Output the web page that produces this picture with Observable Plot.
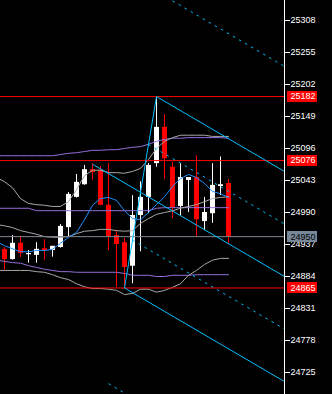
<!DOCTYPE html>
<html>
<head>
<meta charset="utf-8">
<script src="https://cdn.jsdelivr.net/npm/d3@7"></script>
<script src="https://cdn.jsdelivr.net/npm/@observablehq/plot@0.6"></script>
<style>
html, body { margin: 0; padding: 0; background: #000; }
#chart svg { display: block; }
</style>
</head>
<body>
<div id="chart"></div>
<script>
// ---- candles (bar index 0..28) ----
const opens  = [24929,24912,24939,24920,24919,24930,24927,24932,24965,25015,25036,25061,25060,25002,24952,24940,24901,24985,25015,25071,25131,25065,25000,25043,25048,24975,24988,25033,25038];
const highs  = [24932,24952,24950,24927,24940,24945,24934,24970,25023,25053,25068,25071,25066,25071,24960,24947,25018,25041,25071,25182,25152,25073,25071,25048,25084,25015,25071,25082,25045];
const lows   = [24894,24911,24915,24906,24906,24911,24916,24931,24949,25014,25035,25043,25001,24927,24866,24865,24872,24925,24988,25065,25045,24980,24985,24990,24950,24960,24972,25018,24939];
const closes = [24912,24939,24922,24922,24929,24927,24934,24967,25020,25040,25061,25056,25002,24949,24937,24899,24985,25015,25068,25131,25079,24998,25048,25048,24978,24990,25035,25036,24950];

// ---- indicator lines (bar index -1..28) ----
const blueMA   = [24942,24935,24930,24925,24925,24927,24927,24929,24939,24949,24957,24978,25002,25013,25015,25010,24993,24980,24978,24990,25003,25016,25033,25046,25053,25048,25038,25025,25021,25015];
const bandUp   = [25048,25041,25031,25013,25005,25003,25002,25000,25000,25008,25028,25051,25060,25060,25056,25056,25055,25058,25063,25078,25096,25108,25114,25118,25118,25118,25118,25116,25116,25116];
const bandMid  = [24970,24968,24965,24960,24957,24954,24950,24949,24949,24950,24955,24959,24960,24962,24962,24960,24959,24960,24972,24980,24987,24990,24993,24997,25000,25003,25008,25013,25015,25016];
const bandLow  = [24894,24894,24894,24894,24894,24892,24891,24887,24882,24879,24872,24867,24864,24864,24863,24861,24854,24856,24863,24863,24858,24861,24866,24872,24886,24894,24904,24911,24914,24914];
const purpUp   = [25084,25084,25084,25084,25084,25084,25084,25084,25086,25088,25089,25091,25093,25093,25094,25094,25096,25098,25099,25103,25108,25111,25113,25113,25114,25114,25114,25114,25114,25113];
const purpMid  = [24997,24997,24997,24997,24997,24993,24993,24993,24993,24993,24993,24993,24993,24993,24993,24993,24993,24993,24993,24993,24997,24998,24998,24998,24998,24998,24998,24998,24998,24998];
const purpLow  = [24911,24909,24907,24906,24902,24899,24896,24894,24892,24892,24891,24891,24891,24891,24891,24891,24889,24886,24886,24886,24884,24884,24886,24886,24886,24887,24887,24887,24887,24887];

// ---- pitchfork pivots (bar, price) and levels ----
const pivotBars   = [11, 19, 15];
const pivotPrices = [25070, 25182, 24865];
const forkSolidLevels  = [0, 0.5, 1];
const forkDottedLevels = [-0.5, 0.25, 0.75, 1.5];

// ---- horizontal levels and price labels ----
const redLevels   = [25182, 25076, 24865];
const bidPrice    = [24950];
const redLabels   = [25182, 25076, 24865];
const grayLabels  = [24950];

// ---- axis ----
const yTicks  = [25308, 25255, 25202, 25149, 25096, 25043, 24990, 24937, 24884, 24831, 24778, 24725];
const xDomain = [-0.5, 35];
const yDomain = [24688.5625, 25341.125];

// build tables
const candles = opens.map((o, i) => ({i, open: o, high: highs[i], low: lows[i], close: closes[i],
  color: closes[i] < o ? "#ff0000" : "#ffffff"}));
const lineIdx = blueMA.map((_, k) => k - 1);
const series = (arr) => arr.map((v, k) => ({i: lineIdx[k], v}));

const P = pivotBars.map((b, k) => ({x: b, y: pivotPrices[k]}));
const [P0, P1, P2] = P;
const M = {x: (P1.x + P2.x) / 2, y: (P1.y + P2.y) / 2};
const slope = (M.y - P0.y) / (M.x - P0.x);
const xEnd = xDomain[1];
function forkLine(t) {
  const s = t === 0.5 ? P0 : {x: P2.x + t * (P1.x - P2.x), y: P2.y + t * (P1.y - P2.y)};
  return {x1: s.x, y1: s.y, x2: xEnd, y2: s.y + slope * (xEnd - s.x)};
}
const solidSegs = forkSolidLevels.map(forkLine);
solidSegs.push({x1: P2.x, y1: P2.y, x2: P1.x, y2: P1.y});
const dottedSegs = forkDottedLevels.map(forkLine);

const chart = Plot.plot({
  width: 332, height: 394,
  marginLeft: 0, marginRight: 48, marginTop: 0, marginBottom: 0,
  style: {background: "#000", color: "#fff", fontFamily: "'Liberation Sans', Arial, sans-serif", fontSize: "9px"},
  x: {domain: xDomain, axis: null},
  y: {domain: yDomain, axis: null},
  color: {type: "identity"},
  marks: [
    // candles
    Plot.ruleX(candles, {x: "i", y1: "low", y2: "high", stroke: "color", strokeWidth: 1}),
    Plot.ruleX(candles, {x: "i", y1: "open", y2: "close", stroke: "color", strokeWidth: 5}),
    // indicators
    Plot.line(series(purpUp),  {x: "i", y: "v", stroke: "#9370db", strokeWidth: 1}),
    Plot.line(series(purpMid), {x: "i", y: "v", stroke: "#9370db", strokeWidth: 1}),
    Plot.line(series(purpLow), {x: "i", y: "v", stroke: "#9370db", strokeWidth: 1}),
    Plot.line(series(bandUp),  {x: "i", y: "v", stroke: "#a9a9a9", strokeWidth: 1}),
    Plot.line(series(bandMid), {x: "i", y: "v", stroke: "#a9a9a9", strokeWidth: 1}),
    Plot.line(series(bandLow), {x: "i", y: "v", stroke: "#a9a9a9", strokeWidth: 1}),
    Plot.line(series(blueMA),  {x: "i", y: "v", stroke: "#1e90ff", strokeWidth: 1}),
    // horizontal levels
    Plot.ruleY(bidPrice, {stroke: "#808890", strokeWidth: 1}),
    Plot.ruleY(redLevels, {stroke: "#ff0000", strokeWidth: 1}),
    // pitchfork
    Plot.link(solidSegs, {x1: "x1", y1: "y1", x2: "x2", y2: "y2", stroke: "#00bfff", strokeWidth: 1, clip: true}),
    Plot.link(dottedSegs, {x1: "x1", y1: "y1", x2: "x2", y2: "y2", stroke: "#00bfff", strokeWidth: 1, strokeDasharray: "2.5,4.5", clip: true}),
    // price axis
    Plot.ruleX(xDomain.slice(1), {stroke: "#fff", strokeWidth: 1}),
    Plot.axisY({anchor: "right", ticks: yTicks, tickSize: 5, tickPadding: 1, tickFormat: d => String(d), fontSize: 9}),
    // price labels (last two marks)
    Plot.text(redLabels, {y: d => d, text: d => String(d), fill: "#ffffff", frameAnchor: "right", textAnchor: "start", dx: 6, fontSize: 9}),
    Plot.text(grayLabels, {y: d => d, text: d => String(d), fill: "#000000", frameAnchor: "right", textAnchor: "start", dx: 6, fontSize: 9})
  ]
});

document.getElementById("chart").appendChild(chart);

// label backgrounds, placed with the plot's own y scale, just under the label texts
const ys = chart.scale("y");
const markGroups = Array.from(chart.children).filter(n => n.tagName.toLowerCase() === "g");
const firstLabelGroup = markGroups[markGroups.length - 2];
const frameRight = 332 - 48;
const boxes = redLabels.map(v => ({v, fill: "#ff0000"})).concat(grayLabels.map(v => ({v, fill: "#778899"})));
boxes.forEach(d => {
  const r = document.createElementNS("http://www.w3.org/2000/svg", "rect");
  const cy = ys.apply(d.v);
  r.setAttribute("x", frameRight + 3);
  r.setAttribute("y", Math.round(cy - 5.5));
  r.setAttribute("width", 30);
  r.setAttribute("height", 11);
  r.setAttribute("fill", d.fill);
  chart.insertBefore(r, firstLabelGroup);
});
</script>
</body>
</html>
